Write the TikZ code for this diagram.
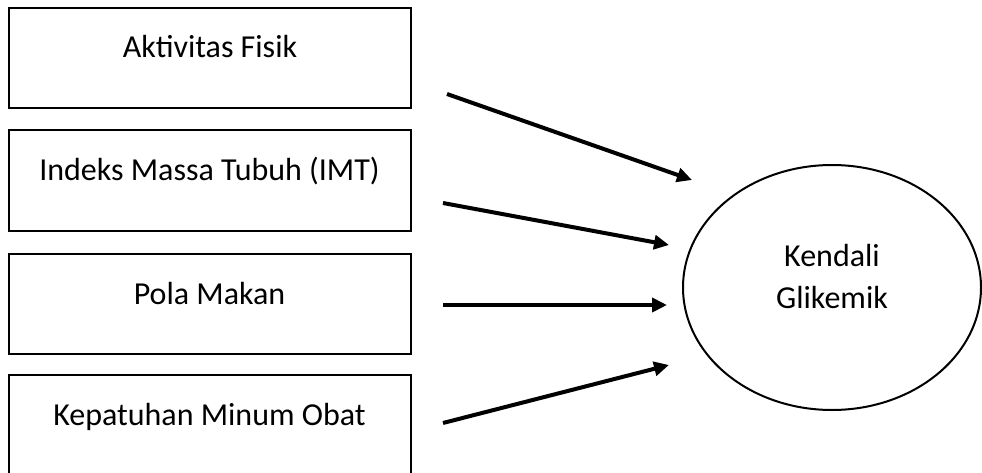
\documentclass[tikz,border=0pt]{standalone}
\usepackage{fontspec}
\setmainfont{Carlito}
\usetikzlibrary{arrows.meta,shapes.geometric}

\begin{document}
\begin{tikzpicture}[x=1pt,y=-1pt,
    faktor/.style={draw,line width=2pt,inner sep=0pt,minimum width=402pt,
                   text height=50pt,text depth=50pt,
                   font=\fontsize{32pt}{42pt}\selectfont},
    hasil/.style={draw,ellipse,line width=2pt,inner sep=0pt,
                  minimum width=298pt,minimum height=245pt,align=center,
                  font=\fontsize{32pt}{42pt}\selectfont},
    panah/.style={line width=4pt,-{Triangle[length=15pt,width=14pt]}}]
    \useasboundingbox (0,0) rectangle (982,473);
    \clip (0,0) rectangle (982,473);
%   boxes
    \node[faktor] (fisik) at (210,58) {Aktivitas Fisik};
    \node[faktor] (imt) at (209.5,180.5) {Indeks Massa Tubuh (IMT)};
    \node[faktor] (pola) at (209.5,304) {Pola Makan};
    \node[faktor] (obat) at (209.5,425) {Kepatuhan Minum Obat};
    \node[hasil,text height=45pt,text depth=4pt] (kendali) at (832,287.5) {Kendali\\Glikemik};

%   arrows
    \coordinate (s1) at (447,94);   \coordinate (t1) at (692,180);
    \coordinate (s2) at (443,203);  \coordinate (t2) at (669,245);
    \coordinate (s3) at (443,305);  \coordinate (t3) at (667,305);
    \coordinate (s4) at (443,423);  \coordinate (t4) at (669,365);
    \foreach \i in {1,...,4} {
        \draw[panah] (s\i) -- (t\i);
    }
\end{tikzpicture}
\end{document}
